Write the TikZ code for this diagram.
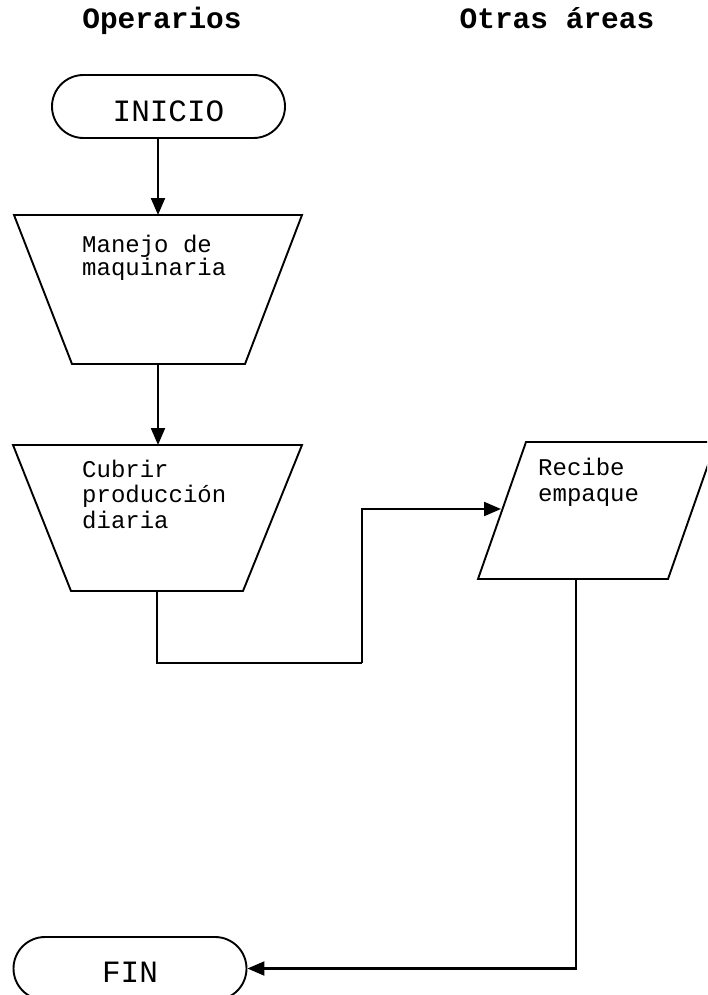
\documentclass[tikz,border=0pt]{standalone}
\usepackage{fontspec}
\setmonofont{Liberation Mono}
\usetikzlibrary{shapes.misc,arrows.meta}
\begin{document}
\begin{tikzpicture}[x=1pt,y=-1pt,
  shapeline/.style={line width=1.9pt, line join=miter},
  term/.style={rounded rectangle, draw, line width=1.9pt, minimum width=233pt,
    minimum height=63pt, inner sep=0pt, text height=30pt, text depth=0pt,
    font=\ttfamily\fontsize{31}{31}\selectfont},
  arr/.style={line width=2.2pt, -{Triangle[length=17pt,width=14pt]}},
  con/.style={line width=2.2pt},
  title/.style={font=\ttfamily\bfseries\fontsize{29.5}{29.5}\selectfont, anchor=base, inner sep=0pt},
  body/.style={font=\ttfamily\fontsize{24}{24}\selectfont, align=left, anchor=base west, inner sep=0pt}]
\useasboundingbox (0,0) rectangle (707,995);
\clip (0,0) rectangle (707,995);

% titles
\node[title] (h1) at (162,29) {Operarios};
\node[title] (h2) at (557,29) {Otras áreas};

% terminals
\node[term] (ini) at (168.5,106.5) {INICIO};
\node[term, text height=28pt] (fin) at (130,968.5) {FIN};

% trapezoid 1
\draw[shapeline] (14,215) -- (302,215) -- (245,364) -- (72,364) -- cycle;
\coordinate (t1top) at (158,215);
\coordinate (t1bot) at (158,364);
\node[body, font=\ttfamily\fontsize{24}{23.5}\selectfont] (t1txt) at (82,275.5) {Manejo de\\maquinaria};

% trapezoid 2
\draw[shapeline] (13,445) -- (302,445) -- (243,591) -- (71,591) -- cycle;
\coordinate (t2top) at (158,445);
\coordinate (t2bot) at (157,591);
\node[body, font=\ttfamily\fontsize{24}{25.5}\selectfont] (t2txt) at (82,528) {Cubrir\\producción\\diaria};

% parallelogram
\draw[shapeline] (526,442) -- (716,442) -- (668,579) -- (478,579) -- cycle;
\coordinate (pin) at (501,509);
\coordinate (pbot) at (576,579);
\node[body, font=\ttfamily\fontsize{24}{26}\selectfont] (ptxt) at (538,501.5) {Recibe\\empaque};

% connectors
\coordinate (c1) at (362,663);
\draw[arr] (ini.south -| t1top) -- (t1top);
\draw[arr] (t1bot) -- (t2top);
\draw[con] (t2bot) |- (c1);
\draw[arr] (c1) |- (pin);
\draw[arr] (pbot) |- (fin.east);
\end{tikzpicture}
\end{document}
